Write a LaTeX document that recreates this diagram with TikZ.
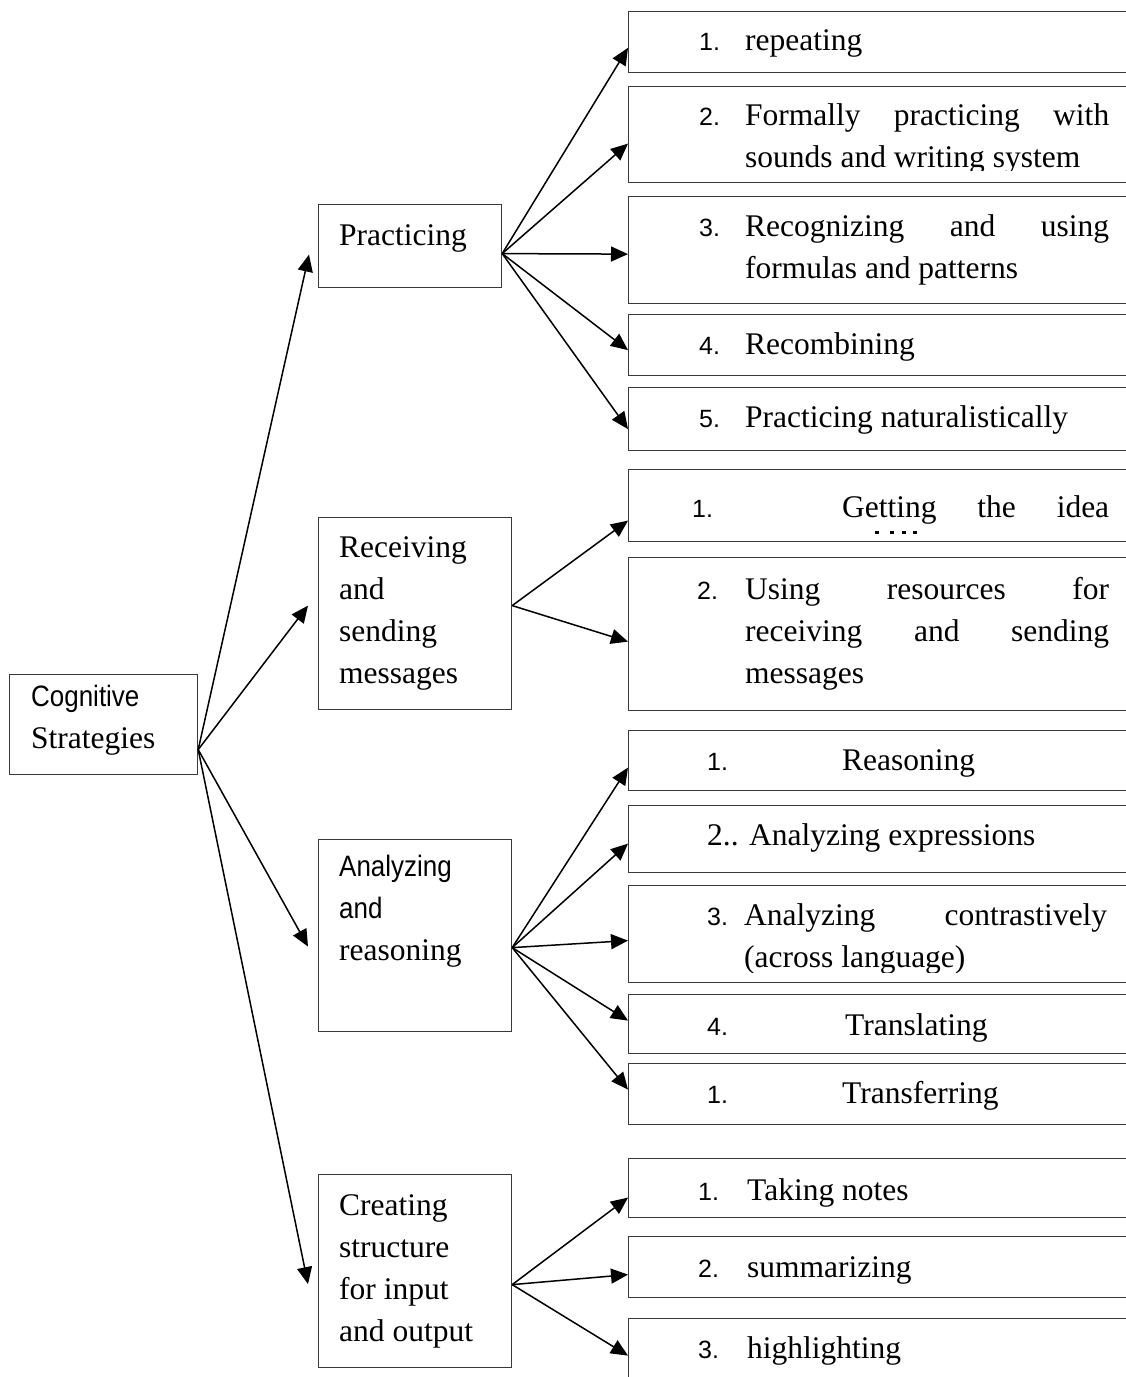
\documentclass[tikz,border=0pt]{standalone}
\usepackage{fontspec}
\setmainfont{Liberation Serif}
\newfontfamily\narrowf{Liberation Sans}[FakeStretch=0.88]
\newfontfamily\numfam{Liberation Sans}
\usetikzlibrary{arrows.meta, positioning, calc}
\definecolor{boxline}{HTML}{3A3A3A}
\newcommand{\numf}{\numfam\fontsize{25}{42}\selectfont}
\newcommand{\nf}{\narrowf\fontsize{29.5}{42}\selectfont}
\newcommand{\tb}[1]{\parbox[t]{440pt}{\raggedright #1}}
\newcommand{\jl}[1]{\makebox[364pt][s]{#1}}
\newcommand{\nb}[2]{\makebox[#1][l]{\numf #2}}

\begin{document}
\begin{tikzpicture}[x=1pt, y=-1pt,
  mbox/.style={draw=boxline, line width=1.2pt, anchor=north west, inner sep=0pt},
  rbox/.style={mbox, minimum width=580pt, minimum height=#1},
  txt/.style={anchor=base west, inner sep=0pt, font=\fontsize{31.5}{42}\selectfont},
  arr/.style={-{Triangle[length=17pt,width=15pt]}, line width=1.5pt}]
  \useasboundingbox (0,0) rectangle (1126,1377);
  \clip (0,0) rectangle (1126,1377);

  % root and the four groups
  \node[mbox, minimum width=188pt, minimum height=100pt] (cs) at (9,674) {};
  \node[mbox, minimum width=183pt, minimum height=83pt] (pr) at (318,204) {};
  \node[mbox, minimum width=193pt, minimum height=192pt] (rs) at (318,517) {};
  \node[mbox, minimum width=193pt, minimum height=192pt] (an) at (318,839) {};
  \node[mbox, minimum width=193pt, minimum height=193pt] (cr) at (318,1174) {};
  \node[txt] (cst) at (31,706) {\tb{{\nf Cognitive}\\Strategies}};
  \node[txt] (prt) at (339,245) {Practicing};
  \node[txt] (rst) at (339,557) {\tb{Receiving\\and\\sending\\messages}};
  \node[txt] (ant) at (339,876) {\tb{{\nf Analyzing}\\{\nf and}\\reasoning}};
  \node[txt] (crt) at (339,1215) {\tb{Creating\\structure\\for input\\and output}};

  % right column boxes
  \node[rbox=60.5pt] (p1) at (628,11) {};
  \node[rbox=96pt] (p2) at (628,86) {};
  \node[rbox=107pt] (p3) at (628,196) {};
  \node[rbox=61pt] (p4) at (628,314) {};
  \node[rbox=63pt] (p5) at (628,387) {};
  \node[rbox=72pt] (r1) at (628,469) {};
  \node[rbox=153pt] (r2) at (628,557) {};
  \node[rbox=60pt] (a1) at (628,730) {};
  \node[rbox=67pt] (a2) at (628,805) {};
  \node[rbox=97pt] (a3) at (628,885) {};
  \node[rbox=59pt] (a4) at (628,994) {};
  \node[rbox=61pt] (a5) at (628,1063) {};
  \node[rbox=59pt] (c1) at (628,1158) {};
  \node[rbox=61pt] (c2) at (628,1236) {};
  \node[rbox=82pt] (c3) at (628,1318) {};

  \node[txt] (p1t) at (699,50) {\nb{46pt}{1.}repeating};
  \begin{scope}
    \clip (628,86) rectangle (1140,170);
    \node[txt] (p2t) at (699,125) {\tb{\nb{46pt}{2.}\jl{Formally practicing with}\\\hspace*{46pt}sounds and writing system}};
  \end{scope}
  \node[txt] (p3t) at (699,236) {\tb{\nb{46pt}{3.}\jl{Recognizing and using}\\\hspace*{46pt}formulas and patterns}};
  \node[txt] (p4t) at (699,354) {\nb{46pt}{4.}Recombining};
  \node[txt] (p5t) at (699,427) {\nb{46pt}{5.}Practicing naturalistically};
  \node[txt] (r1t) at (692,517) {\nb{150pt}{1.}\makebox[267pt][s]{Getting the idea}};
  \foreach \x in {875,890,902,913}
    \fill (\x,531) rectangle ++(4,2.5);
  \node[txt] (r2t) at (697,599) {\tb{\nb{48pt}{2.}\jl{Using resources for}\\\hspace*{48pt}\jl{receiving and sending}\\\hspace*{48pt}messages}};
  \node[txt] (a1t) at (707,770) {\nb{135pt}{1.}Reasoning};
  \node[txt] (a2t) at (707,845) {2.. Analyzing expressions};
  \begin{scope}
    \clip (628,885) rectangle (1140,972);
    \node[txt] (a3t) at (707,925) {\tb{\nb{37pt}{3.}\makebox[363pt][s]{Analyzing contrastively}\\\hspace*{37pt}(across language)}};
  \end{scope}
  \node[txt] (a4t) at (707,1035) {\nb{138pt}{4.}Translating};
  \node[txt] (a5t) at (707,1103) {\nb{135pt}{1.}Transferring};
  \node[txt] (c1t) at (698,1200) {\nb{49pt}{1.}Taking notes};
  \node[txt] (c2t) at (698,1277) {\nb{49pt}{2.}summarizing};
  \node[txt] (c3t) at (698,1358) {\nb{49pt}{3.}highlighting};

  % connector ends
  \coordinate (cs-o) at ([yshift=-25pt]cs.east);
  \coordinate (pr-i) at ([xshift=-9pt,yshift=-8.5pt]pr.west);
  \coordinate (pr-o) at ([yshift=-7.5pt]pr.east);
  \coordinate (rs-i) at ([xshift=-10pt,yshift=8pt]rs.west);
  \coordinate (rs-o) at ([yshift=8pt]rs.east);
  \coordinate (an-i) at ([xshift=-10pt,yshift=-11pt]an.west);
  \coordinate (an-o) at ([yshift=-12pt]an.east);
  \coordinate (cr-i) at ([xshift=-10pt,yshift=-13pt]cr.west);
  \coordinate (cr-o) at ([yshift=-13.5pt]cr.east);

  \foreach \g in {pr,rs,an,cr}
    \draw[arr] (cs-o) -- (\g-i);
  \foreach \b/\s in {p1/-6pt, p2/-9pt, p3/-4pt, p4/-5pt, p5/-10pt}
    \draw[arr] (pr-o) -- ([yshift=\s]\b.west);
  \foreach \b/\s in {r1/-15pt, r2/-7.5pt}
    \draw[arr] (rs-o) -- ([yshift=\s]\b.west);
  \foreach \b/\s in {a1/-7pt, a2/-4.5pt, a3/-6.5pt, a4/3.5pt, a5/4.5pt}
    \draw[arr] (an-o) -- ([yshift=\s]\b.west);
  \foreach \b/\s in {c1/-9.5pt, c2/-7.5pt, c3/4pt}
    \draw[arr] (cr-o) -- ([yshift=\s]\b.west);
\end{tikzpicture}
\end{document}
